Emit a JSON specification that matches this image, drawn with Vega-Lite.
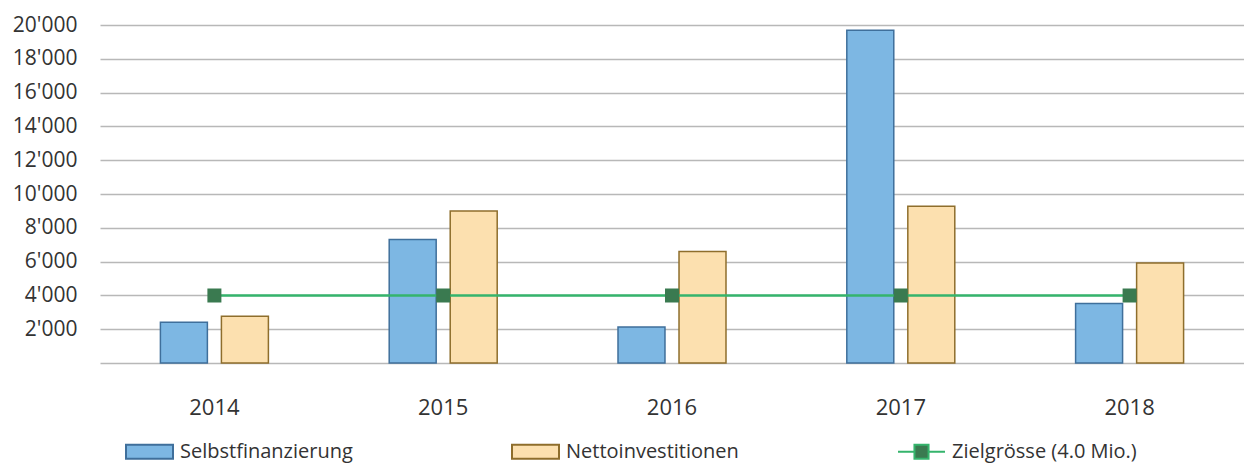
{
  "$schema": "https://vega.github.io/schema/vega-lite/v6.json",
  "autosize": "none",
  "width": 1144,
  "height": 338,
  "padding": {"left": 100, "top": 25, "right": 0, "bottom": 101},
  "background": "white",
  "config": {
    "view": {"stroke": null},
    "font": "Open Sans"
  },
  "data": {
    "values": [
      {"year": "2014", "series": "Selbstfinanzierung", "value": 2410},
      {"year": "2014", "series": "Nettoinvestitionen", "value": 2770},
      {"year": "2014", "series": "Zielgrösse (4.0 Mio.)", "value": 4000},
      {"year": "2015", "series": "Selbstfinanzierung", "value": 7310},
      {"year": "2015", "series": "Nettoinvestitionen", "value": 9000},
      {"year": "2015", "series": "Zielgrösse (4.0 Mio.)", "value": 4000},
      {"year": "2016", "series": "Selbstfinanzierung", "value": 2130},
      {"year": "2016", "series": "Nettoinvestitionen", "value": 6600},
      {"year": "2016", "series": "Zielgrösse (4.0 Mio.)", "value": 4000},
      {"year": "2017", "series": "Selbstfinanzierung", "value": 19690},
      {"year": "2017", "series": "Nettoinvestitionen", "value": 9280},
      {"year": "2017", "series": "Zielgrösse (4.0 Mio.)", "value": 4000},
      {"year": "2018", "series": "Selbstfinanzierung", "value": 3520},
      {"year": "2018", "series": "Nettoinvestitionen", "value": 5920},
      {"year": "2018", "series": "Zielgrösse (4.0 Mio.)", "value": 4000}
    ]
  },
  "encoding": {
    "x": {
      "field": "year",
      "type": "nominal",
      "scale": {"paddingInner": 0.528, "paddingOuter": 0.264},
      "axis": {
        "title": null,
        "labelAngle": 0,
        "labelFontSize": 22,
        "labelColor": "#333333",
        "labelPadding": 34,
        "ticks": false,
        "domain": false
      }
    },
    "y": {
      "field": "value",
      "type": "quantitative",
      "scale": {"domain": [0, 20000]},
      "axis": {
        "title": null,
        "values": [0, 2000, 4000, 6000, 8000, 10000, 12000, 14000, 16000, 18000, 20000],
        "labelExpr": "datum.value == 0 ? '' : replace(format(datum.value, ','), ',', \"'\")",
        "labelOverlap": false,
        "labelFontSize": 21,
        "labelColor": "#333333",
        "labelPadding": 23,
        "ticks": false,
        "domain": false,
        "grid": true,
        "gridColor": "#b8b8b8",
        "gridWidth": 1.5
      }
    }
  },
  "layer": [
    {
      "transform": [{"filter": "datum.series !== 'Zielgrösse (4.0 Mio.)'"}],
      "mark": {"type": "bar", "opacity": 1},
      "encoding": {
        "xOffset": {
          "field": "series",
          "type": "nominal",
          "sort": ["Selbstfinanzierung", "Nettoinvestitionen"],
          "scale": {"paddingInner": 0.23, "paddingOuter": 0}
        },
        "fill": {
          "field": "series",
          "type": "nominal",
          "scale": {
            "domain": ["Selbstfinanzierung", "Nettoinvestitionen", "Zielgrösse (4.0 Mio.)"],
            "range": ["#7DB7E3", "#FCE0AF", "#3A7A50"]
          },
          "legend": {
            "orient": "none", "legendX": 25, "legendY": 402, "direction": "horizontal", "columns": 3,
            "title": null, "padding": 0, "labelFontSize": 20, "labelColor": "#333333", "labelOffset": 6,
            "labelLimit": 400, "symbolSize": 2209, "symbolStrokeWidth": 2, "columnPadding": 155
          }
        },
        "stroke": {
          "field": "series",
          "type": "nominal",
          "scale": {
            "domain": ["Selbstfinanzierung", "Nettoinvestitionen", "Zielgrösse (4.0 Mio.)"],
            "range": ["#3F6F9B", "#8E6E2C", "#35B46C"]
          },
          "legend": {
            "orient": "none", "legendX": 25, "legendY": 402, "direction": "horizontal", "columns": 3,
            "title": null, "padding": 0, "labelFontSize": 20, "labelColor": "#333333", "labelOffset": 6,
            "labelLimit": 400, "symbolSize": 2209, "symbolStrokeWidth": 2, "columnPadding": 155
          }
        },
        "strokeWidth": {
          "field": "series",
          "type": "nominal",
          "scale": {
            "type": "ordinal",
            "domain": ["Selbstfinanzierung", "Nettoinvestitionen", "Zielgrösse (4.0 Mio.)"],
            "range": [1.5, 1.5, 4]
          },
          "legend": null
        }
      }
    },
    {
      "transform": [{"filter": "datum.series === 'Zielgrösse (4.0 Mio.)'"}],
      "mark": {"type": "line"},
      "encoding": {
        "stroke": {"field": "series", "type": "nominal"},
        "strokeWidth": {"field": "series", "type": "nominal", "legend": null}
      }
    },
    {
      "transform": [{"filter": "datum.series === 'Zielgrösse (4.0 Mio.)'"}],
      "mark": {"type": "point", "size": 2178, "filled": true, "opacity": 1},
      "encoding": {
        "fill": {"field": "series", "type": "nominal"},
        "shape": {
          "field": "series",
          "type": "nominal",
          "scale": {
            "domain": ["Selbstfinanzierung", "Nettoinvestitionen", "Zielgrösse (4.0 Mio.)"],
            "range": ["M-1,-0.3H1V0.3H-1Z", "M-1,-0.3H1V0.3H-1Z", "M-1,0H-0.3M0.3,0H1M-0.3,-0.3H0.3V0.3H-0.3Z"]
          },
          "legend": {
            "orient": "none", "legendX": 25, "legendY": 402, "direction": "horizontal", "columns": 3,
            "title": null, "padding": 0, "labelFontSize": 20, "labelColor": "#333333", "labelOffset": 6,
            "labelLimit": 400, "symbolSize": 2209, "symbolStrokeWidth": 2, "columnPadding": 155
          }
        }
      }
    }
  ]
}
